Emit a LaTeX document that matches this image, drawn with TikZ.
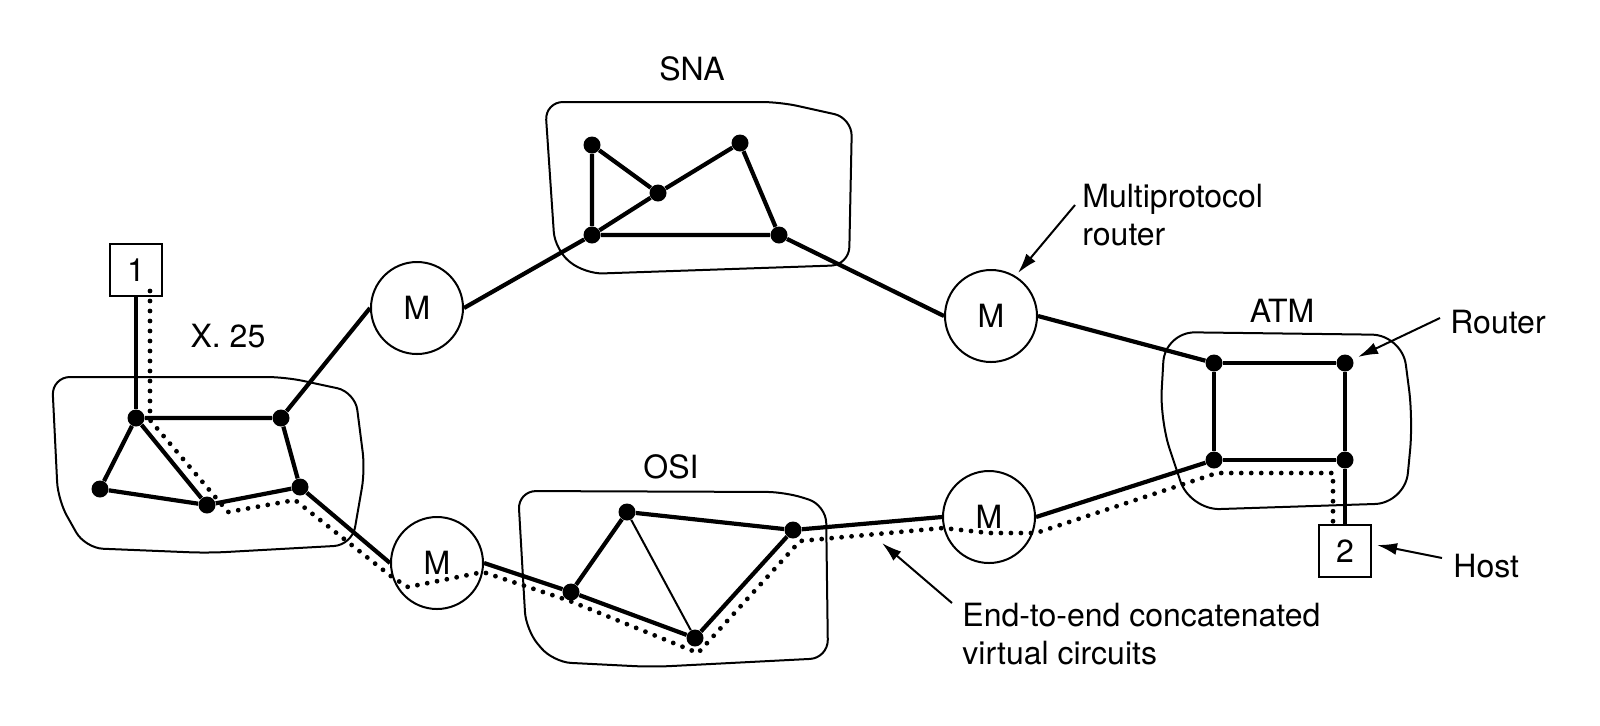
\documentclass[tikz,border=0pt]{standalone}
\usepackage{fontspec}
\setmainfont{TeX Gyre Heros}
\usetikzlibrary{arrows.meta}
\begin{document}
\begin{tikzpicture}[x=0.5pt,y=-0.5pt,
  lbl/.style={font=\fontsize{16pt}{19pt}\selectfont, inner sep=0pt},
  dot/.style={circle, fill=black, inner sep=0pt, minimum size=8.5pt},
  mrouter/.style={circle, draw, line width=1pt, minimum size=46pt, inner sep=0pt, font=\fontsize{16pt}{19pt}\selectfont},
  hostbox/.style={draw, line width=1pt, minimum size=26pt, inner sep=0pt, font=\fontsize{16pt}{19pt}\selectfont},
  link/.style={line width=2.1pt},
  thinlink/.style={line width=1pt},
  vc/.style={line width=2.4pt, dash pattern=on 0pt off 5pt, line cap=round},
  blob/.style={line width=1pt, rounded corners=9pt},
  arr/.style={line width=1pt, -{Latex[length=10pt,width=6pt]}}
]
\useasboundingbox (0,0) rectangle (1600,725);

% clouds
\draw[blob] (52,377) -- (285,377) -- (355,392) -- (365,470) -- (352,545) -- (208,553) -- (85,548) -- (58,500) -- cycle;
\draw[blob] (545,102) -- (780,102) -- (852,118) -- (849,265) -- (585,274) -- (555,250) -- cycle;
\draw[blob] (518,491) -- (785,492) -- (826,505) -- (828,658) -- (652,667) -- (553,662) -- (526,630) -- cycle;
\draw[blob,rounded corners=15pt] (1165,332) -- (1402,335) -- (1413,420) -- (1405,503) -- (1190,510) -- (1160,420) -- cycle;

% labels
\node[lbl, anchor=base] (snal) at (692,80) {SNA};
\node[lbl, anchor=base] (x25l) at (228,347) {X. 25};
\node[lbl, anchor=base] (osil) at (671,478) {OSI};
\node[lbl, anchor=base] (atml) at (1282,322) {ATM};
\node[lbl, anchor=base west] (rtl) at (1450,333) {Router};
\node[lbl, anchor=base west] (hsl) at (1453,577) {Host};
\node[lbl, anchor=north west, align=left] (mpl) at (1082,184) {Multiprotocol\\router};
\node[lbl, anchor=north west, align=left] (eel) at (962,603) {End-to-end concatenated\\virtual circuits};

% hosts
\node[hostbox] (h1) at (136,270) {1};
\node[hostbox] (h2) at (1345,551) {2};

% multiprotocol routers
\node[mrouter] (M1) at (417,308) {M};
\node[mrouter] (M2) at (437,563) {M};
\node[mrouter] (M3) at (991,316) {M};
\node[mrouter] (M4) at (989,517) {M};

% X.25
\node[dot] (A) at (136,418) {};
\node[dot] (B) at (281,418) {};
\node[dot] (C) at (100,489) {};
\node[dot] (D) at (207,505) {};
\node[dot] (E) at (300,487) {};
% SNA
\node[dot] (J) at (592,145) {};
\node[dot] (K) at (658,193) {};
\node[dot] (L) at (740,143) {};
\node[dot] (N) at (592,235) {};
\node[dot] (O) at (779,235) {};
% OSI
\node[dot] (F) at (571,592) {};
\node[dot] (G) at (627,512) {};
\node[dot] (H) at (793,530) {};
\node[dot] (I) at (695,638) {};
% ATM
\node[dot] (P) at (1214,363) {};
\node[dot] (Q) at (1345,363) {};
\node[dot] (R) at (1214,460) {};
\node[dot] (S) at (1345,460) {};

% links
\draw[link] (h1.south) -- (A);
\draw[link] (A) -- (B) (A) -- (C) (A) -- (D) (C) -- (D) (D) -- (E) (B) -- (E);
\draw[link] (B) -- (M1.west);
\draw[link] (E) -- (M2.west);
\draw[link] (J) -- (K) (J) -- (N) (N) -- (K) (K) -- (L) (L) -- (O) (N) -- (O);
\draw[link] (N) -- (M1.east);
\draw[link] (O) -- (M3.west);
\draw[link] (M2.east) -- (F);
\draw[link] (F) -- (G) (G) -- (H) (F) -- (I) (I) -- (H);
\draw[thinlink] (G) -- (I);
\draw[link] (H) -- (M4.west);
\draw[link] (M3.east) -- (P);
\draw[link] (M4.east) -- (R);
\draw[link] (P) -- (Q) (P) -- (R) (Q) -- (S) (R) -- (S);
\draw[link] (S) -- (h2.north);

% virtual circuit path
\coordinate (d1) at (150,291);
\coordinate (d2) at (150,420);
\coordinate (d3) at (228,512);
\coordinate (d4) at (295,500);
\coordinate (d5) at (392,577);
\coordinate (d6) at (408,587);
\coordinate (d7) at (483,572);
\coordinate (d8) at (570,601);
\coordinate (d9) at (698,653);
\coordinate (d10) at (800,541);
\coordinate (d11) at (943,528);
\coordinate (d12) at (989,533);
\coordinate (d13) at (1036,533);
\coordinate (d14) at (1217,473);
\coordinate (d15) at (1333,473);
\coordinate (d16) at (1333,525);
\draw[vc] (d1) -- (d2) -- (d3) -- (d4) -- (d5) -- (d6) -- (d7) -- (d8) -- (d9) -- (d10) -- (d11) -- (d12) -- (d13) -- (d14) -- (d15) -- (d16);

% callout arrows
\coordinate (rt1) at (1440,318);
\coordinate (rt2) at (1358,357);
\coordinate (mp1) at (1075,205);
\coordinate (mp2) at (1018,273);
\coordinate (hs1) at (1442,558);
\coordinate (hs2) at (1377,545);
\coordinate (ee1) at (952,603);
\coordinate (ee2) at (882,543);
\draw[arr] (rt1) -- (rt2);
\draw[arr] (mp1) -- (mp2);
\draw[arr] (hs1) -- (hs2);
\draw[arr] (ee1) -- (ee2);
\end{tikzpicture}
\end{document}
